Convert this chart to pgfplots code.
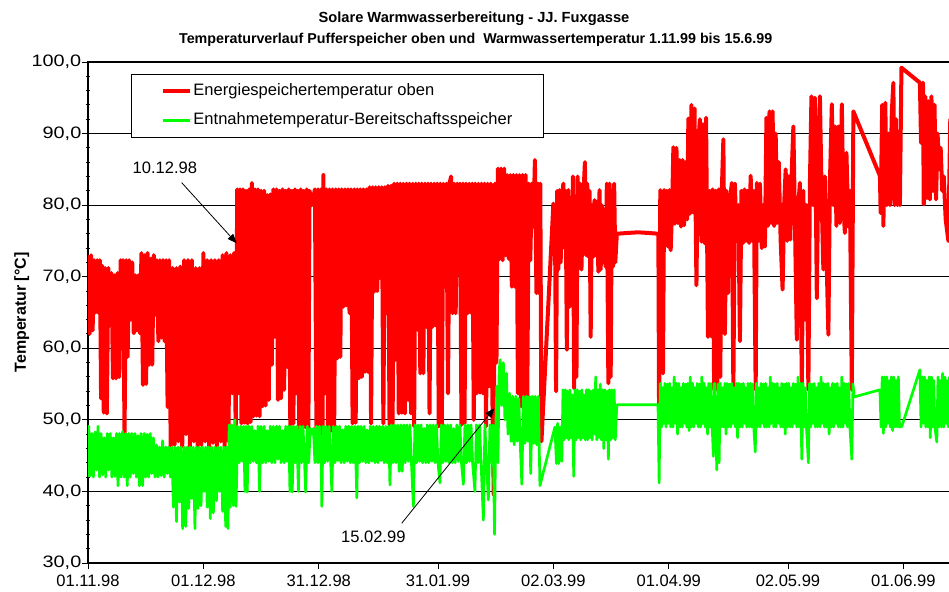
\documentclass[border=0pt]{standalone}
\usepackage{fontspec}
\setmainfont{Liberation Sans}
\newfontfamily\ytf[FakeStretch=1.2]{Liberation Sans}
\usepackage{pgfplots}
\pgfplotsset{compat=1.18}
\usetikzlibrary{arrows.meta}
\definecolor{xlred}{RGB}{255,0,0}
\definecolor{xlgreen}{RGB}{0,255,0}
\begin{document}
\begin{tikzpicture}
\useasboundingbox (-66pt,-21.75pt) rectangle (645.75pt,422.25pt);
\clip (-66pt,-21.75pt) rectangle (645.75pt,422.25pt);
\begin{axis}[
  x=2.8845pt, y=5.368pt,
  xmin=0, xmax=228, ymin=30, ymax=100,
  clip mode=individual,
  axis line style={black, line width=0.8pt},
  ymajorgrids, grid style={black, line width=0.7pt},
  ytick={30,40,50,60,70,80,90,100},
  yticklabels={{30,0},{40,0},{50,0},{60,0},{70,0},{80,0},{90,0},{100,0}},
  minor y tick num=4,
  xtick={0,30,60,91,121,151,182,212},
  xticklabels={01.11.98,01.12.98,31.12.98,31.01.99,02.03.99,01.04.99,02.05.99,01.06.99},
  tick align=outside, tick pos=left,
  major tick length=4.5pt, minor tick length=3.5pt,
  tick style={black, line width=0.7pt},
  minor tick style={xshift=1.75pt},
  xticklabel style={font=\fontsize{12.4}{14}\selectfont, yshift=-3.5pt, inner ysep=1pt},
  yticklabel style={font=\ytf\fontsize{12.4}{14}\selectfont, xshift=3pt},
  legend style={at={(0.04904,0.976)}, anchor=north west, draw=black, line width=0.7pt, fill=white,
    inner xsep=22pt, inner ysep=5.8pt, row sep=8.4pt,
    font=\fontsize{12.4}{14}\selectfont,
    nodes={inner sep=1pt, text height=9pt, text depth=2.6pt}, cells={anchor=west}},
  legend image code/.code={\draw[#1, line cap=butt] (0pt,0pt) -- (20.5pt,0pt);},
]
\addplot[color=xlred, line width=3pt, line join=round, no markers] coordinates {
(0,73)(0.4,62)(0.8,73)(1.2,62.5)(1.6,72.3)(2,65)(2.4,72.3)(2.8,64.9)(3.1,72.3)(3.4,53)(3.7,71.5)(4.1,51)(4.5,71.2)(4.9,50.9)(5.3,71.2)(5.7,64)(6.1,70.5)(6.5,55.8)(6.9,70.2)(7.3,55.8)(7.7,70.5)(8.1,56)(8.5,72.3)(8.8,60.7)(9.1,72.3)(9.5,48.1)(9.9,72.3)(10.3,58.8)(10.7,72.3)(11.1,64)(11.5,72)(11.9,62.1)(12.3,70.2)(12.7,62.5)(13.1,70.2)(13.5,62.1)(13.9,73.3)(14.3,54.9)(14.7,73)(15.1,55)(15.5,73.3)(15.9,57.7)(16.3,72.5)(16.7,57.7)(17.1,73)(17.5,64.7)(17.9,72.3)(18.3,61)(18.7,72.3)(19.1,61.5)(19.5,72.3)(19.9,61)(20.3,72.3)(20.7,51.8)(21.1,72.3)
(21.5,46.3)(22,71.2)(22.5,46.5)(23,71.2)(23.5,47)(24,71.4)(24.5,46.3)(25,72.3)(25.5,48)(26,72.3)(26.5,46.3)(27,72.3)(27.5,47)(28,71.2)(28.5,46.3)(29,71.2)(29.5,46.5)(30,73.3)(30.5,47)(31,72.3)(31.5,46.3)(32,72.3)(32.5,46.8)(33,72.3)(33.5,46.3)(34,72.3)(34.5,47)(35,73)(35.5,46.3)(36,73.3)(36.5,47)(37,73)(37.5,53.7)(38,73.3)(38.4,48)(38.7,73)
(38.8,82.2)(39.1,53.7)(39.5,82.2)(39.9,49.5)(40.3,82.2)(40.7,49.6)(41.1,82)(41.5,49.5)(41.9,82.2)(42.3,49.7)(42.6,83.1)(43,50.5)(43.4,82.2)(43.8,50.6)(44.2,82.2)(44.6,50.5)(45,82)(45.4,51.9)(45.8,82)(46.2,52)(46.6,81.4)(47,52.8)(47.4,81.5)(47.8,57.7)(48.2,82.2)(48.6,61.6)(49,82.2)(49.4,52.8)(49.8,82)(50.2,53)(50.6,82.2)(51,54.2)(51.4,82)(51.8,57.4)(52.2,82.2)(52.6,49.1)(53,82)(53.4,49.5)(53.8,82.2)(54.1,53.7)(54.5,82)(54.9,48.8)(55.3,82.2)(55.7,48.8)(56.1,82)(56.5,49)(56.9,82.2)(57.3,48.8)(57.6,82)(58.2,80)(59,82.2)
(59.4,48.1)(59.8,82.2)(60.2,48.3)(60.6,82.2)(61,48.1)(61.2,84.2)(61.6,53.7)(62,82.2)(62.4,48.4)(62.8,82.2)(63.2,48.5)(63.6,82.2)(64,48.4)(64.4,82.2)(64.8,58.6)(65.2,82.2)(65.6,58.8)(66,82.2)(66.4,65.8)(66.8,82.2)(67.2,66)(67.6,82.2)(68,64.9)(68.4,82.2)(68.8,49.5)(69.2,82.2)(69.6,49.6)(70,82.2)(70.4,55.8)(70.8,82.2)(71.2,56)(71.6,82.2)(72,56.7)(72.4,82.2)(72.8,56.7)(73.2,82.5)(73.6,49.5)(74,82.5)(74.4,67.9)(74.8,82.5)(75.2,68)(75.6,82.5)(76,69.8)(76.4,82.5)(76.8,49.5)(77.2,82.5)(77.6,64.9)(78,82.7)(78.4,49.3)(78.8,82.7)(79.2,49.5)(79.6,83)(80,58.4)(80.4,83)(80.8,50.9)(81.2,83)(81.6,51)(82,83)(82.4,50.9)(82.8,83)(83.2,52.8)(83.6,83)(84,50.9)(84.4,83)(84.8,49.1)(85.2,83)(85.6,62.6)(86,83)(86.4,56.5)(86.8,83)(87.2,56.5)(87.6,83)(88,63)(88.4,83)(88.8,50.9)(89.2,83)(89.6,63)(90,83)(90.4,63.2)(90.8,83)(91.2,49.1)(91.6,83)(92,49.3)(92.4,83)(92.8,68.6)(93.2,83)(93.6,53.7)(94,83)(94.4,84)(94.8,64.9)(95.2,83)(95.6,64.9)(96,83)(96.3,70.5)(96.7,83)(97.1,49.3)(97.5,83)(97.9,49.5)(98.3,83)(98.7,64.9)(99.1,83)(99.5,65)(99.9,83)(100.3,50)(100.7,83)(101.1,53.7)(101.5,83)(101.9,53.8)(102.3,83)(102.7,53.7)(103.1,83)(103.5,49.1)(103.9,83)(104.3,54.7)(104.7,83)(105.1,54.7)(105.5,39.5)(105.8,83)
(106.2,58)(106.6,85.1)(107,72.5)(107.4,85.1)(107.8,72.3)(108.2,85.1)(108.6,73)(109,84.2)(109.4,72.5)(109.8,84.2)(110.2,68.6)(110.6,84.2)(111,68.6)(111.4,84.2)(111.8,53.7)(112.2,84.2)(112.6,51.9)(113,84.2)(113.4,52)(113.8,84.2)(114.2,51.9)(114.6,83)(115,72.3)(115.4,83)(115.8,77)(116.2,86.3)(116.6,67.7)(117,83)(117.3,67.7)(117.6,83)(117.9,47)
(121,80.2)(121.4,79)(121.7,54)(122,82)(122.3,71)(122.6,82.1)(122.9,72)(123.2,81)(123.6,83)(123.9,74)(124.2,82)(124.5,59.8)(124.9,82.1)(125.2,65.8)(125.5,81)(125.8,66)(126.1,84)(126.4,54.4)(126.7,80)(127,56)(127.3,84)(127.6,74)(127.9,83)(128.3,71)(128.7,80)(129.2,86)(129.5,73)(129.8,83)(130.1,72.8)(130.4,82)(130.7,61.6)(131,80)(131.4,72.8)(131.7,80.7)(132,73)(132.3,80.5)(132.7,70.7)(133,82.1)(133.3,71)(133.6,80)(133.9,72)(134.2,79.4)(134.6,71.4)(134.9,83)(135.3,55.1)(135.6,83)(135.9,56)(136.2,82)(136.5,71.4)(136.8,83)(137.1,72)(137.5,76)(140,76.1)(143,76.2)(146,76.1)(148.3,76)
(148.5,48.1)(148.8,82.1)(149.1,74.2)(149.5,56.5)(149.8,82.1)(150.1,74.5)(150.5,82)(150.8,74.2)(151.2,82.1)(151.5,73.7)(151.9,80)(152.2,88.1)(152.6,77.4)(153,88)(153.4,77.5)(153.8,86.3)(154.2,77)(154.6,86.3)(155,77.2)(155.4,86)(155.8,78)(156.1,92.1)(156.5,78.8)(156.9,94)(157.3,79)(157.7,93.5)(158.2,68.8)(158.6,88)(159.1,92)(159.5,74.9)(159.9,91.3)(160.3,74.7)(160.7,92.2)(161.2,61.6)(161.6,82)(162,61.7)(162.4,82.2)(162.8,54.2)(163.2,82)(163.6,54.2)(164,82.2)(164.4,56)(164.8,82)(165.2,89.2)(165.6,62)(166,82)(166.4,67.7)(166.8,80)(167.4,83.1)(167.8,54.2)(168.2,83)(168.6,75)(169.1,80)(169.5,61)(169.9,82)(170.3,74.7)(170.7,82.2)(171.1,75)(171.5,82)(171.9,74.7)(172.3,84.1)(172.7,75)(173.1,82)(173.6,54.2)(173.9,83.1)(174.3,75)(174.7,83)(175.2,74)(175.6,80)(176,74.2)(176.4,92.2)(176.8,77.1)(177.2,93.1)(177.6,77.5)(178,93.1)(178.4,77.1)(178.8,90)(179.2,77.5)(179.6,86)(180.1,75)(180.6,68.2)(181,80)(181.4,85)(181.8,75)(182.2,84)(182.6,75.2)(183,85)(183.4,91)(183.8,78)(184.3,61.2)(184.7,80)(185.1,83.1)(185.6,54.2)(186,82)(186.4,64)(186.8,80)(187.3,54.2)(187.7,83)(188.1,95.2)(188.5,80)(189,95)(189.5,67)(189.9,85)(190.3,95.2)(190.8,80)(191.2,71)(191.6,84)(192.1,71.2)(192.5,61.9)(192.9,83)(193.4,94.1)(193.8,80)(194.2,91)(194.6,77.1)(195.1,91)(195.5,77.5)(196,94.1)(196.4,80)(196.8,76.1)(197.2,87.3)(197.7,77)(198.1,82)(198.6,54.2)(199,93.1)
(205.9,84.1)(206.1,78.9)(206.5,94)(206.8,77.1)(207.3,94.3)(207.7,80)(208.1,90)(208.5,80)(209,93)(209.4,97.1)(209.7,80)(210.1,92)(210.5,80)(210.9,90)(211.1,80)(211.5,99.2)(216.3,97.1)(216.6,88.7)(216.9,91)(217.1,97.1)(217.3,80.1)(217.7,95.2)(218.1,81)(218.5,94.5)(218.9,80.8)(219.3,95.2)(219.7,82)(220.1,94)(220.5,80.8)(220.9,90)(221.3,85)(221.7,88)(222.1,82)(222.5,84)(223,78)(223.7,75)(224.2,92)(224.6,80)(225,95)(225.5,83)
};
\addlegendentry{Energiespeichertemperatur oben}
\addplot[color=xlgreen, line width=2pt, line join=round, no markers] coordinates {
(0,42)(0.2,49.1)(0.6,42.2)(1,48.1)(1.4,42)(1.8,48.3)(2.2,43)(2.6,49.1)(3,42)(3.4,48.1)(3.8,42.3)(4.2,47.5)(4.6,42)(5,48.1)(5.4,43)(5.8,48.1)(6.2,42)(6.6,47.5)(7,42.1)(7.4,48.1)(7.8,40.8)(8.2,48.1)(8.6,42)(9,48.4)(9.4,42)(9.8,48.1)(10.2,40.8)(10.6,48.1)(11,42)(11.4,48.1)(11.8,42.5)(12.2,48.1)(12.6,42)(13,47.8)(13.4,40.8)(13.8,48.1)(14.2,40.8)(14.6,48.1)(15,42)(15.4,48)(15.8,42)(16.2,48.1)(16.6,42.5)(17,47.5)(17.4,42)(17.8,46.5)
(18.2,42)(18.6,46.2)(19,42.2)(19.4,47.1)(19.8,42)(20.2,46.2)(20.6,42.5)(21,46.2)(21.4,42)
(21.8,46.2)(22.2,37.8)(22.6,46.2)(23,35.8)(23.4,46.2)(23.8,38.5)(24.2,46.2)(24.6,34.8)(25,46.2)(25.4,35.1)(25.8,46.2)(26.2,37.6)(26.6,46.2)(27,39)(27.4,46.2)(27.8,34.8)(28.2,46.2)(28.6,37.6)(29,46.2)(29.4,38)(29.8,46.2)(30.2,40)(30.6,46.2)(31,37.8)(31.4,46.2)(31.8,36.2)(32.2,46.2)(32.6,37)(33,46.2)(33.4,38.7)(33.8,46.2)(34.2,40)(34.6,46.2)(35,37.2)(35.4,46.2)(35.8,35.1)(36.1,46.2)(36.4,34.8)(36.7,49.3)(37,37.8)(37.4,49.3)(37.8,38)(38.2,50)(38.5,37.9)(38.9,49.1)
(39.3,44)(39.7,49.1)(40.1,44.2)(40.5,49.1)(40.8,40)(41.1,49.1)(41.4,39.9)(41.8,49.1)(42.2,44)(42.6,49.1)(43,44.2)(43.4,48.5)(43.8,44)(44.2,49.1)(44.6,40)(45,49.1)(45.4,44)(45.8,49.1)(46.2,44)(46.6,48.5)(47,44.2)(47.4,49.1)(47.8,44)(48.2,49.1)(48.6,44)(49,49.1)(49.4,44.5)(49.8,49.1)(50.2,44)(50.6,48.5)(51,44)(51.4,49.1)(51.8,44.2)(52.2,49.1)(52.5,40)(52.8,49.1)(53.1,39.9)(53.5,49.1)(53.9,44)(54.3,49.1)(54.7,40)(55.1,49.1)(55.5,44)(55.9,49.1)(56.3,44.2)(56.6,39.9)(57,49.1)(57.4,44)(57.8,48.8)(58.2,48)(58.6,48.8)(59,44)(59.4,49.1)(59.8,44)(60.2,49.1)(60.6,44)(60.8,37.9)(61.1,49.1)
(61.5,44)(61.9,49.1)(62.3,44.2)(62.7,49.1)(63.1,44)(63.4,40)(63.8,49.1)(64.2,44)(64.6,49.1)(65,44.3)(65.4,49.1)(65.8,44)(66.2,48.6)(66.6,44)(67,49.1)(67.4,44.2)(67.8,49.1)(68.2,44)(68.6,49.1)(69,44)(69.4,49.1)(69.9,39.1)(70.2,49.1)(70.6,44)(71,49.1)(71.4,44.2)(71.8,49.1)(72.2,44)(72.6,48.6)(73,44)(73.4,49.1)(73.8,44.2)(74.2,49.1)(74.6,44)(75,49.1)(75.4,44)(75.8,49.1)(76.2,44.3)(76.6,49.1)(77,44)(77.4,49.1)(77.8,44)(78.2,49.1)(78.5,40.9)(78.9,49.3)(79.3,44)(79.7,49.3)(80.1,44)(80.5,49.3)(80.9,42.8)(81.3,49.3)(81.7,42.8)(82.1,49.3)(82.5,44)(82.9,49.3)(83.3,44.2)(83.7,49.3)(84.1,44)(84.6,37.9)(85,49.3)(85.4,44)(85.8,49.3)(86.2,44.2)(86.6,49.3)(87,44)(87.4,48.8)(87.8,44)(88.2,49.3)(88.6,44)(89,49.3)(89.4,44.2)(89.8,49.3)(90.2,44)(90.6,49.3)(91,44)(91.5,41.2)(91.9,49.3)(92.3,44)(92.7,49.3)(93.1,44.2)(93.5,49.3)(93.9,44)(94.3,49.3)(94.7,44)(95.1,48.8)(95.5,44)(95.9,49.3)(96.3,44.2)(96.7,49.3)(97.1,44)(97.6,41)(98,49.3)(98.4,44)(98.8,49.3)(99.2,44.2)(99.6,49.3)(100,44)(100.6,40)(101,49.3)(101.4,44)(101.8,49.3)(102.2,44)(102.8,36)(103.2,49.3)(103.6,44)(104.1,38.8)(104.5,49.3)(104.9,44)(105.3,49.3)(105.7,34)(106,48)(106.3,54.7)(106.6,44)(106.9,57)(107.2,58.4)(107.6,52)(108,58)(108.4,50)(108.8,56.5)(109.2,48)(109.6,53.7)(110,47)
(110.4,53.3)(110.8,46.5)(111.2,53.3)(111.6,47)(112,53)(112.4,46.5)(112.8,41)(113.2,53.3)(113.6,46.7)(114,53.3)(114.4,47)(114.8,53.3)(115.1,42.5)(115.5,53.3)(115.9,46.7)(116.3,53.3)(116.7,46.5)(117.1,53.3)(117.5,40.8)(121.4,49)
(121.8,43.9)(122.1,49.5)(122.4,43.9)(122.8,49)(123.2,44.2)(123.5,54.2)(123.8,47.2)(124.1,54.2)(124.4,47.5)(124.7,54)(125,47.2)(125.3,54.2)(125.6,47.5)(125.9,53.5)(126.3,42.1)(126.6,54.2)(126.9,47.2)(127.2,54.2)(127.5,47.5)(127.8,54)(128.1,47.2)(128.4,54.2)(128.7,47.5)(129,53.5)(129.3,47.2)(129.6,54.2)(129.9,47.2)(130.2,54.2)(130.5,47.5)(130.8,54)(131.1,47.2)(131.4,54.2)(131.7,48)(132,56)(132.3,47.2)(132.6,54.2)(132.9,47.5)(133.2,55)(133.5,47.2)(133.8,54.2)(134.1,46)(134.4,54.2)(134.7,47.2)(135,54)(135.3,44.5)(135.6,54.2)(135.9,47.2)(136.2,54.2)(136.5,47.5)(136.8,54.2)(137.1,47.2)(137.5,52.1)(148.2,52.1)(148.5,41.2)
(148.8,55.1)(149.1,49)(149.4,54.5)(149.7,49.5)(150,55.1)(150.3,49)(150.6,55)(150.9,49.5)(151.2,55.1)(151.5,49)(151.8,54.5)(152.1,49)(152.4,56)(152.7,49.5)(153,55.1)(153.3,48)(153.6,55.1)(153.9,49)(154.2,54.5)(154.5,49)(154.8,55.1)(155.1,49.5)(155.4,55)(155.7,49)(156,55.1)(156.3,48.5)(156.6,56)(156.9,49)(157.2,55.1)(157.5,49)(157.8,54.5)(158.1,49.5)(158.4,55.1)(158.7,49)(159,55)(159.3,49)(159.6,56)(159.9,49.5)(160.2,55.1)(160.5,49)(160.8,54.5)(161.1,48)(161.4,55.1)(161.7,49)(162,55.1)(162.3,49)(162.6,44.9)(162.9,55.1)(163.2,49)(163.5,43)(163.8,55)(164.1,44)(164.4,55.1)(164.7,49)(165,54.5)(165.3,49)(165.6,55.1)(165.9,48)(166.2,55.1)(166.5,49)(166.8,55)(167.1,49)(167.4,55.1)(167.7,49.5)(168,54.5)(168.3,49)(168.6,55.1)(168.9,47.5)(169.2,55.1)(169.5,49)(169.8,55)(170.1,49)(170.4,55.1)(170.7,49.5)(171,54.5)(171.3,49)(171.6,55.1)(171.9,49)(172.2,55.1)(172.5,49)(172.8,55)(173.1,49)(173.5,45.5)(173.8,55.1)(174.1,49)(174.4,54.5)(174.7,49)(175,55.1)(175.3,49.5)(175.6,55)(175.9,49)(176.2,55.1)(176.5,49)(176.8,54.5)(177.1,49)(177.4,56)(177.7,49.5)(178,55.1)(178.3,49)(178.6,55)(178.9,49)(179.2,55.1)(179.5,49.5)(179.8,54.5)(180.1,49)(180.4,55.1)(180.7,49)(181,55)(181.3,48)(181.6,55.1)(181.9,49)(182.2,55.1)(182.5,49)(182.8,54.5)(183.1,49)(183.4,55.1)(183.7,49.5)(184,55)(184.3,49)(184.6,56)(184.9,49)(185.2,55.1)(185.6,44.5)(185.9,55.1)(186.2,49)(186.5,54.5)(186.8,49)(187.3,44)(187.6,55.1)(187.9,49)(188.2,55)(188.5,49.5)(188.8,55.1)(189.1,49)(189.4,54.5)(189.7,49)(190,55.1)(190.3,49)(190.6,56)(190.9,49.5)(191.2,55.1)(191.5,49)(191.8,55)(192.1,49)(192.4,55.1)(192.7,48)(193,54.5)(193.3,49)(193.6,55.1)(193.9,49)(194.2,55)(194.5,49.5)(194.8,55.1)(195.1,49)(195.4,54.5)(195.7,49)(196,56)(196.3,49)(196.6,55.1)(196.9,49.5)(197.2,55)(197.5,49)(197.8,55.1)(198.1,49)(198.6,44.5)(198.9,55)(199.2,53.2)(205.9,54.2)
(206.2,49)(206.5,56)(206.8,48.1)(207.1,56)(207.4,49)(207.7,56)(208,49.5)(208.3,55.5)(208.6,49)(208.9,56)(209.2,48.5)(209.5,56)(209.8,49)(210.1,55.5)(210.4,49)(210.7,56)(211,49)(211.6,49.1)(216.3,57)(216.6,49)(216.9,56)(217.2,49.5)(217.5,56)(217.8,49)(218.1,55.5)(218.4,49)(218.7,56)(219,47.5)(219.3,56)(219.6,49)(219.9,55.5)(220.2,49)(220.7,46.9)(221,56)(221.3,49)(221.6,55.5)(221.9,49)(222.2,56.5)(222.5,49)(222.8,56)(223.1,49.5)(223.4,55.5)(223.7,49)(224,56)(224.3,49)(224.6,55.5)(225,49)
};
\addlegendentry{Entnahmetemperatur-Bereitschaftsspeicher}
\node[font=\bfseries\fontsize{11}{13}\selectfont] at (axis cs:100.36,106.0) {Solare Warmwasserbereitung - JJ. Fuxgasse};
\node[font=\bfseries\fontsize{10.7}{12}\selectfont] at (axis cs:100.8,103.07) {Temperaturverlauf Pufferspeicher oben und\ \ Warmwassertemperatur 1.11.99 bis 15.6.99};
\node[rotate=90, font=\bfseries\fontsize{12}{14}\selectfont] at (axis cs:-17.2,65) {Temperatur [°C]};
\draw[-{Triangle[length=7pt,width=5.5pt]}, line width=0.6pt] (axis cs:24.36,83.14) -- (axis cs:38.66,74.67);
\node[font=\fontsize{12.4}{14}\selectfont] at (axis cs:20,85.19) {10.12.98};
\draw[-{Triangle[length=7pt,width=5.5pt]}, line width=0.6pt] (axis cs:81.57,35.55) -- (axis cs:105.64,51.62);
\node[font=\fontsize{12.4}{14}\selectfont] at (axis cs:74.18,33.7) {15.02.99};
\end{axis}
\end{tikzpicture}
\end{document}
